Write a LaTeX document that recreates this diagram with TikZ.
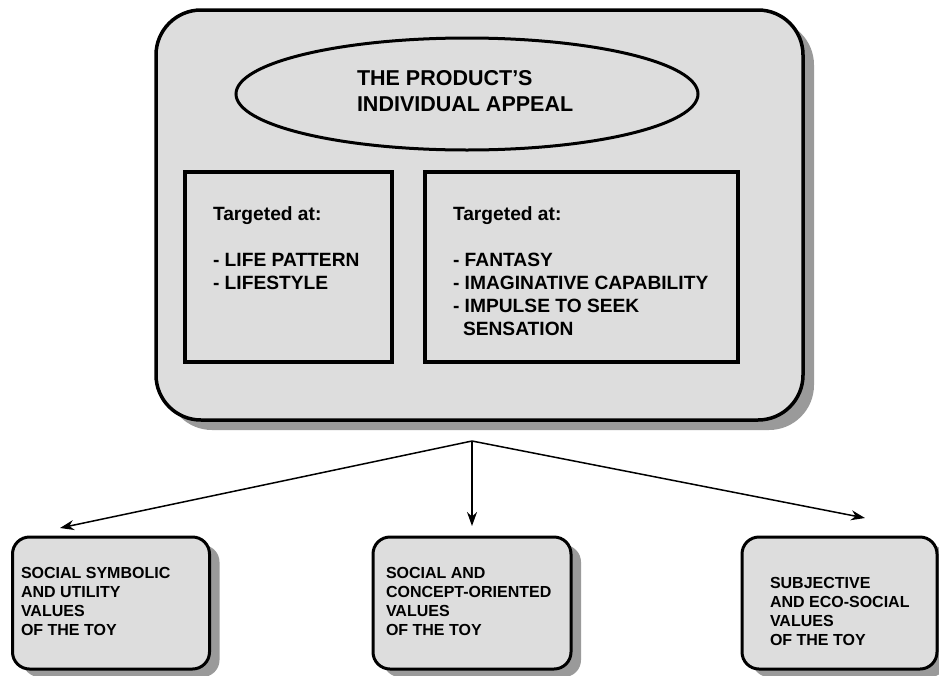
\documentclass[tikz,border=0pt]{standalone}
\usepackage{fontspec}
\setmainfont{Liberation Sans}
\usetikzlibrary{shapes.geometric,shadows,arrows.meta}
\definecolor{panel}{HTML}{DDDDDD}
\definecolor{shade}{HTML}{9A9A9A}

\begin{document}
\begin{tikzpicture}[x=1pt,y=-1pt,
  panelbox/.style={draw=black, fill=panel, inner sep=0pt, outer sep=0pt},
  mainpanel/.style={panelbox, line width=3.5pt, rounded corners=45pt,
    drop shadow={shadow xshift=11pt, shadow yshift=-10pt, fill=shade, opacity=1}},
  appeal/.style={ellipse, draw=black, fill=panel, line width=3pt, inner sep=0pt},
  targetbox/.style={draw=black, line width=3.5pt, inner sep=0pt},
  valuebox/.style={panelbox, line width=3pt, rounded corners=17pt,
    minimum height=132pt,
    drop shadow={shadow xshift=10pt, shadow yshift=-8pt, fill=shade, opacity=1}},
  % multi-line texts are placed by the baseline of their last line
  txt/.style={inner sep=0pt, outer sep=0pt, align=left, anchor=base west},
  titletxt/.style={txt, font=\bfseries\fontsize{21.5}{26}\selectfont},
  targettxt/.style={txt, font=\bfseries\fontsize{19.2}{23}\selectfont},
  valuetxt/.style={txt, font=\bfseries\fontsize{16}{19}\selectfont},
  link/.style={line width=1.5pt, -{Stealth[length=14pt,width=10pt]}}]

\useasboundingbox (0,0) rectangle (939,675);

% outer panel with the appeal and its two target groups
\node[mainpanel, minimum width=647pt, minimum height=410pt] (main) at (479.5,215) {};
\node[appeal, minimum width=462pt, minimum height=112pt] (appeal) at (467,94) {};
\node[titletxt] (title) at (357,111) {THE PRODUCT'S\\INDIVIDUAL APPEAL};

\node[targetbox, minimum width=207pt, minimum height=190pt] (lefttarget) at (288.5,267) {};
\node[targetbox, minimum width=313pt, minimum height=190pt] (righttarget) at (581.5,267) {};
\node[targettxt] (lefttxt) at (213,289)
  {Targeted at:\\[23pt]- LIFE PATTERN\\- LIFESTYLE};
\node[targettxt] (righttxt) at (453,335)
  {Targeted at:\\[23pt]- FANTASY\\- IMAGINATIVE CAPABILITY\\- IMPULSE TO SEEK\\\hspace*{10pt}SENSATION};

% value boxes
\node[valuebox, minimum width=197pt] (vleft) at (111,603) {};
\node[valuebox, minimum width=198pt] (vmid) at (472,603) {};
\node[valuebox, minimum width=195pt] (vright) at (839.5,603) {};
\node[valuetxt] (vlefttxt) at (21,635)
  {SOCIAL SYMBOLIC\\AND UTILITY\\VALUES\\OF THE TOY};
\node[valuetxt] (vmidtxt) at (386,635)
  {SOCIAL AND\\CONCEPT-ORIENTED\\VALUES\\OF THE TOY};
\node[valuetxt] (vrighttxt) at (770,645)
  {SUBJECTIVE\\AND ECO-SOCIAL\\VALUES\\OF THE TOY};

% branching arrows
\coordinate (hub) at (472,441);
\coordinate (tipL) at (60,528);
\coordinate (tipM) at (472,526);
\coordinate (tipR) at (865,518);
\draw[link] (hub) -- (tipL);
\draw[link] (hub) -- (tipM);
\draw[link] (hub) -- (tipR);
\end{tikzpicture}
\end{document}
